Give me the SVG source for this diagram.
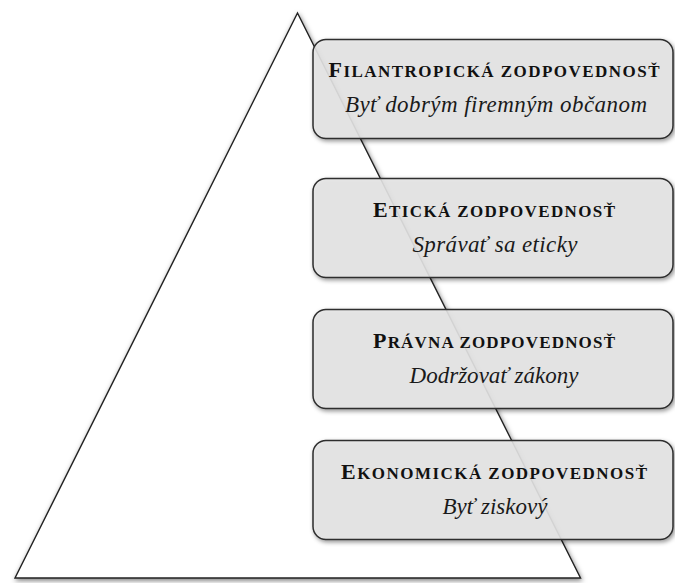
<svg xmlns="http://www.w3.org/2000/svg" width="675" height="583" viewBox="0 0 675 583">
  <defs>
    <filter id="shadow" x="-10%" y="-10%" width="120%" height="120%">
      <feDropShadow dx="1.5" dy="2" stdDeviation="2" flood-color="#000" flood-opacity="0.45"/>
    </filter>
    <filter id="triShadow" x="-10%" y="-10%" width="120%" height="120%">
      <feDropShadow dx="1" dy="2" stdDeviation="2.5" flood-color="#000" flood-opacity="0.5"/>
    </filter>
  </defs>
  <style>
    .box { fill: #e6e6e6; fill-opacity: 0.88; stroke: #2e2e2e; stroke-width: 1.5; filter: url(#shadow); }
    .tri { fill: #ffffff; stroke: #222222; stroke-width: 1.4; filter: url(#triShadow); }
    .title { font-family: "Liberation Serif", "DejaVu Serif", serif; font-weight: bold; fill: #111; text-anchor: middle; }
    .big { font-size: 22px; }
    .sc { font-size: 17px; }
    .sub { font-family: "Liberation Serif", "DejaVu Serif", serif; font-style: italic; font-size: 23px; fill: #1a1a1a; text-anchor: middle; }
  </style>
  <rect width="675" height="583" fill="#ffffff"/>

  <!-- pyramid -->
  <g id="pyramid">
    <polygon class="tri" points="297.5,13 15,578 580.5,578"/>
  </g>

  <!-- responsibility levels, top to bottom -->
  <g id="filantropicka">
    <rect class="box" x="313" y="39.5" width="360" height="99" rx="13" ry="13"/>
    <text class="title" x="494" y="77" textLength="331"><tspan class="big">F</tspan><tspan class="sc">ILANTROPICKÁ ZODPOVEDNOSŤ</tspan></text>
    <text class="sub" x="496" y="112" textLength="302">Byť dobrým firemným občanom</text>
  </g>

  <g id="eticka">
    <rect class="box" x="313" y="178.5" width="360" height="99" rx="13" ry="13"/>
    <text class="title" x="494" y="217" textLength="242"><tspan class="big">E</tspan><tspan class="sc">TICKÁ ZODPOVEDNOSŤ</tspan></text>
    <text class="sub" x="495" y="252" textLength="165">Správať sa eticky</text>
  </g>

  <g id="pravna">
    <rect class="box" x="313" y="309.5" width="360" height="99" rx="13" ry="13"/>
    <text class="title" x="494" y="348" textLength="242"><tspan class="big">P</tspan><tspan class="sc">RÁVNA ZODPOVEDNOSŤ</tspan></text>
    <text class="sub" x="494" y="383" textLength="169">Dodržovať zákony</text>
  </g>

  <g id="ekonomicka">
    <rect class="box" x="313" y="440.5" width="360" height="99" rx="13" ry="13"/>
    <text class="title" x="494" y="479" textLength="306"><tspan class="big">E</tspan><tspan class="sc">KONOMICKÁ ZODPOVEDNOSŤ</tspan></text>
    <text class="sub" x="495" y="514" textLength="105">Byť ziskový</text>
  </g>

  <g id="connectors"/>
</svg>
